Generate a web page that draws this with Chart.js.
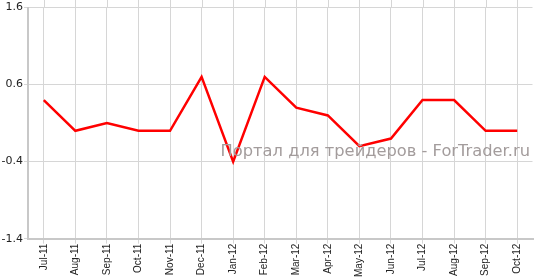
<!DOCTYPE html>
<html>
<head>
<meta charset="utf-8">
<script src="https://cdn.jsdelivr.net/npm/chart.js@4"></script>
<style>
  html, body { margin: 0; padding: 0; background: #fff; }
  #wrap { width: 537px; height: 280px; position: relative; }
</style>
</head>
<body>
<div id="wrap"><canvas id="rateChart"></canvas></div>
<script>
const months = ['Jul-11', 'Aug-11', 'Sep-11', 'Oct-11', 'Nov-11', 'Dec-11', 'Jan-12', 'Feb-12',
  'Mar-12', 'Apr-12', 'May-12', 'Jun-12', 'Jul-12', 'Aug-12', 'Sep-12', 'Oct-12'];
const values = [0.4, 0.0, 0.1, 0.0, 0.0, 0.7, -0.4, 0.7, 0.3, 0.2, -0.2, -0.1, 0.4, 0.4, 0.0, 0.0];
const yTicks = [1.6, 0.6, -0.4, -1.4];
const watermark = 'Портал для трейдеров - ForTrader.ru';

const GRID = '#d6d6d6';

// gridlines in the original run up past the top line to the canvas edge
const extendGridPlugin = {
  id: 'extendGrid',
  beforeDatasetsDraw(chart) {
    const ctx = chart.ctx;
    const x = chart.scales.x;
    const area = chart.chartArea;
    ctx.save();
    // no frame line on the right side
    ctx.fillStyle = '#fff';
    ctx.fillRect(area.right - 0.5, 0, chart.width - area.right + 1, area.bottom - 1);
    ctx.strokeStyle = GRID;
    ctx.lineWidth = 1;
    x.ticks.forEach((t, i) => {
      const px = Math.round(x.getPixelForTick(i)) + 0.5;
      ctx.beginPath();
      ctx.moveTo(px, 0);
      ctx.lineTo(px, area.top);
      ctx.stroke();
    });
    ctx.restore();
  }
};

const watermarkPlugin = {
  id: 'watermark',
  afterDraw(chart) {
    const ctx = chart.ctx;
    ctx.save();
    ctx.font = '16.3px "DejaVu Sans", Verdana, sans-serif';
    ctx.fillStyle = '#a39c9c';
    ctx.textAlign = 'right';
    ctx.textBaseline = 'alphabetic';
    ctx.fillText(watermark, 530, 156);
    ctx.restore();
  }
};

const ctx = document.getElementById('rateChart').getContext('2d');
new Chart(ctx, {
  type: 'line',
  data: {
    labels: months,
    datasets: [{
      data: values,
      borderColor: '#ff0000',
      borderWidth: 2.5,
      pointRadius: 0,
      tension: 0,
      fill: false
    }]
  },
  options: {
    responsive: true,
    maintainAspectRatio: false,
    animation: false,
    layout: { padding: { top: 7, right: 4, left: 0, bottom: 3 } },
    plugins: { legend: { display: false }, tooltip: { enabled: false } },
    scales: {
      x: {
        offset: true,
        grid: {
          color: c => (c.tick ? GRID : 'rgba(0,0,0,0)'),
          lineWidth: 1,
          tickLength: 5,
          offset: false
        },
        border: { color: '#c8c8c8', width: 2 },
        ticks: {
          color: '#222',
          font: { family: 'Arial, "Liberation Sans", sans-serif', size: 10 },
          maxRotation: 90,
          minRotation: 90,
          autoSkip: false,
          padding: 0
        }
      },
      y: {
        min: -1.4,
        max: 1.6,
        afterBuildTicks(axis) { axis.ticks = yTicks.map(v => ({ value: v })); },
        afterFit(axis) { axis.width = 28; },
        grid: { color: GRID, lineWidth: 1, tickLength: 4 },
        border: { color: '#c8c8c8', width: 2 },
        ticks: {
          color: '#222',
          font: { family: 'Verdana, "DejaVu Sans", sans-serif', size: 11 },
          padding: 1,
          callback: v => String(v)
        }
      }
    }
  },
  plugins: [extendGridPlugin, watermarkPlugin]
});
</script>
</body>
</html>
